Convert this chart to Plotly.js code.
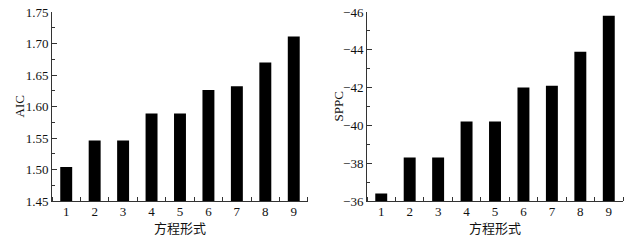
<!DOCTYPE html>
<html>
<head>
<meta charset="utf-8">
<script src="https://cdn.plot.ly/plotly-3.0.1.min.js"></script>
<style>html,body{margin:0;padding:0;background:#fff;}#chart{width:642px;height:240px;}</style>
</head>
<body>
<div id="chart"></div>
<script>
// Data
var forms = [1, 2, 3, 4, 5, 6, 7, 8, 9];
var aicValues = [1.504, 1.546, 1.546, 1.589, 1.589, 1.626, 1.632, 1.670, 1.711];
var sppcValues = [-36.4, -38.3, -38.3, -40.2, -40.2, -42.0, -42.1, -43.9, -45.8];
var xTitle = '方程形式';
var aicTitle = 'AIC';
var sppcTitle = 'SPPC';

var serif = 'Liberation Serif, Times New Roman, Noto Sans CJK SC, serif';
var tickFont = {family: serif, size: 13, color: '#111'};
var titleFont = {family: serif, size: 13, color: '#111'};
var axisLine = '#333';

var traces = [
  {type: 'bar', x: forms, y: aicValues, xaxis: 'x', yaxis: 'y',
   width: 0.42, marker: {color: '#000'}, showlegend: false, hoverinfo: 'x+y'},
  {type: 'bar', x: forms, y: sppcValues, xaxis: 'x2', yaxis: 'y2',
   width: 0.42, marker: {color: '#000'}, showlegend: false, hoverinfo: 'x+y'}
];

function xAxis(domain, anchor) {
  return {
    domain: domain, anchor: anchor, range: [0.5, 9.5],
    tickmode: 'array', tickvals: forms, ticktext: forms.map(String),
    ticks: '', ticklen: 0, ticklabelstandoff: -2,
    minor: {tick0: 0.5, dtick: 1, ticks: 'inside', ticklen: 4, tickcolor: axisLine, tickwidth: 1, showgrid: false},
    showline: true, linecolor: axisLine, linewidth: 1, mirror: false,
    showgrid: false, zeroline: false, tickfont: tickFont
  };
}

var W = 642, L = 52, R = 19, T = 12, B = 39;
var pw = W - L - R;
function px(xPix) { return (xPix - L) / pw; }

var layout = {
  width: W, height: 240,
  margin: {l: L, r: R, t: T, b: B},
  paper_bgcolor: '#fff', plot_bgcolor: '#fff',
  xaxis: xAxis([0, 0.4483], 'y'),
  xaxis2: xAxis([0.5517, 1], 'y2'),
  yaxis: {
    domain: [0, 1], anchor: 'x', range: [1.45, 1.75],
    tickmode: 'linear', tick0: 1.45, dtick: 0.05, tickformat: '.2f',
    ticks: 'inside', ticklen: 5, tickcolor: axisLine, tickwidth: 1,
    minor: {dtick: 0.025, tick0: 1.45, ticks: 'inside', ticklen: 3, tickcolor: axisLine, tickwidth: 1, showgrid: false},
    showline: true, linecolor: axisLine, linewidth: 1,
    showgrid: false, zeroline: false, tickfont: tickFont
  },
  yaxis2: {
    domain: [0, 1], anchor: 'x2', range: [-36, -46],
    tickmode: 'linear', tick0: -46, dtick: 2,
    ticks: 'inside', ticklen: 5, tickcolor: axisLine, tickwidth: 1,
    minor: {dtick: 1, tick0: -46, ticks: 'inside', ticklen: 3, tickcolor: axisLine, tickwidth: 1, showgrid: false},
    showline: true, linecolor: axisLine, linewidth: 1,
    showgrid: false, zeroline: false, tickfont: tickFont
  },
  annotations: [
    {text: aicTitle, xref: 'paper', yref: 'paper', x: px(19), y: 0.5, xanchor: 'center', yanchor: 'middle',
     textangle: -90, showarrow: false, font: titleFont},
    {text: sppcTitle, xref: 'paper', yref: 'paper', x: px(338), y: 0.5, xanchor: 'center', yanchor: 'middle',
     textangle: -90, showarrow: false, font: titleFont},
    {text: xTitle, xref: 'x domain', yref: 'paper', x: 0.5, y: 0, yshift: -27, xanchor: 'center', yanchor: 'middle',
     showarrow: false, font: titleFont},
    {text: xTitle, xref: 'x2 domain', yref: 'paper', x: 0.5, y: 0, yshift: -27, xanchor: 'center', yanchor: 'middle',
     showarrow: false, font: titleFont}
  ]
};

Plotly.newPlot('chart', traces, layout, {displayModeBar: false, staticPlot: true});
</script>
</body>
</html>
